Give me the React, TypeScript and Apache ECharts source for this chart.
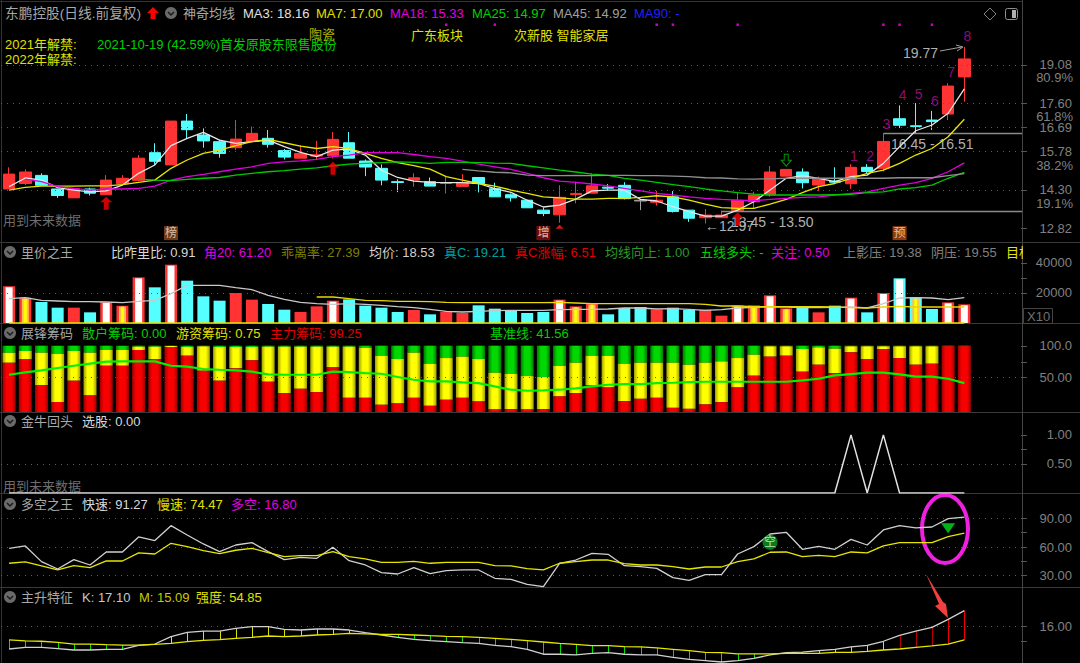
import React, { useEffect, useRef } from "react";
import * as echarts from "echarts";

const categories = Array.from({ length: 63 }, (_, i) => `D${i + 1}`);

// [open, close, low, high]
const candles = [
  [14.33,14.90,14.33,15.16],[14.54,14.98,14.48,15.08],[14.85,14.47,14.47,14.93],[14.33,14.08,13.99,14.33],[13.99,14.35,13.99,14.35],
  [14.33,14.17,14.08,14.38],[14.11,14.67,14.11,14.86],[14.53,14.74,14.53,14.86],[14.66,15.51,14.61,15.63],[15.72,15.39,15.25,16.08],
  [15.25,16.93,15.25,16.93],[16.93,16.60,16.27,17.20],[16.40,16.17,15.91,16.65],[16.14,15.69,15.53,16.20],[15.91,16.24,15.82,16.97],
  [16.15,16.46,16.15,16.72],[16.27,16.04,15.91,16.59],[15.80,15.55,15.46,15.86],[15.51,15.69,15.51,16.01],[15.59,15.64,15.44,16.17],
  [15.60,16.23,15.50,16.51],[16.10,15.51,15.51,16.51],[15.40,15.17,14.82,15.46],[15.12,14.67,14.47,15.27],[14.61,14.58,14.21,14.70],
  [14.67,14.76,14.42,14.93],[14.61,14.44,14.44,14.77],[14.54,14.57,14.16,14.80],[14.43,14.58,14.43,14.90],[14.77,14.54,14.20,14.77],
  [14.34,14.03,14.03,14.57],[14.11,13.99,13.85,14.16],[13.90,13.61,13.61,13.90],[13.52,13.39,13.29,13.62],[13.34,14.01,13.04,14.47],
  [14.12,14.16,13.78,14.61],[14.17,14.45,14.17,14.93],[14.40,14.36,14.26,14.52],[14.47,13.96,13.93,14.59],[13.90,13.87,13.52,13.90],
  [13.82,13.90,13.69,14.26],[14.03,13.47,13.43,14.25],[13.52,13.21,13.07,13.52],[13.23,13.33,13.01,13.56],[13.23,13.33,13.23,13.50],
  [13.50,13.90,13.50,14.22],[13.84,14.10,13.59,14.22],[14.10,14.98,14.03,15.21],[14.82,15.08,14.82,15.08],[14.98,14.57,14.35,15.12],
  [14.48,14.70,14.26,14.80],[14.63,14.59,14.54,15.16],[14.53,15.16,14.34,15.28],[15.16,15.00,14.93,15.28],[15.12,16.15,15.00,16.46],
  [17.02,16.77,16.66,17.53],[16.75,16.72,16.46,17.62],[16.97,16.91,16.59,17.32],[17.20,18.27,16.97,18.38],[18.62,19.31,17.67,19.77],
];
const ma3 = [14.42,14.75,14.67,14.38,14.29,14.22,14.26,14.48,14.93,15.25,15.99,16.27,16.50,16.20,16.08,16.14,16.20,15.95,15.73,15.57,15.82,15.86,15.63,15.05,14.77,
  14.63,14.58,14.57,14.57,14.54,14.34,14.20,13.90,13.64,13.71,13.94,14.26,14.29,14.29,13.93,13.87,13.65,13.46,13.29,13.29,
  13.52,13.84,14.29,14.74,14.84,14.74,14.61,14.80,14.86,15.31,15.95,16.56,16.78,17.23,18.16];
const ma7 = [14.29,14.39,14.44,14.44,14.44,14.45,14.45,14.50,14.58,14.67,15.12,15.44,15.69,15.82,15.99,16.14,16.23,16.10,15.97,15.88,15.95,15.88,15.69,15.50,15.34,
  15.22,15.09,14.80,14.67,14.54,14.44,14.29,14.16,14.03,13.99,13.94,13.94,13.97,13.97,14.01,14.07,14.03,13.90,13.75,13.62,
  13.59,13.59,13.75,13.93,14.19,14.42,14.54,14.74,14.93,15.05,15.31,15.63,15.88,16.33,17.00];
const ma18 = [null,14.71,14.61,14.42,14.35,14.29,14.33,14.33,14.35,14.44,14.67,14.80,14.89,14.99,15.09,15.18,15.31,15.37,15.41,15.46,15.57,15.63,15.72,15.72,15.72,
  15.65,15.57,15.50,15.40,15.28,15.18,15.08,14.93,14.76,14.63,14.58,14.52,14.45,14.35,14.26,14.16,14.10,14.03,13.97,13.93,
  13.90,13.88,13.93,13.97,14.01,14.03,14.10,14.16,14.22,14.35,14.48,14.57,14.74,14.99,15.33];
const ma25 = [null,null,null,null,null,null,null,null,14.71,14.67,14.65,14.70,14.74,14.77,14.86,14.93,14.99,15.03,15.09,15.14,15.22,15.28,15.31,15.34,15.37,
  15.35,15.31,15.35,15.35,15.34,15.32,15.31,15.22,15.14,15.05,14.98,14.90,14.85,14.74,14.67,14.58,14.50,14.42,14.33,14.26,
  14.19,14.13,14.10,14.10,14.10,14.10,14.11,14.12,14.19,14.22,14.33,14.38,14.48,14.74,14.97];
const ma45 = [null,null,null,null,null,null,null,null,null,null,null,null,null,null,null,null,null,null,null,null,null,null,null,null,null,null,null,null,
  15.08,15.02,14.97,14.95,14.86,14.84,14.84,14.85,14.84,14.85,14.85,14.84,14.84,14.82,14.80,14.76,14.75,14.72,14.71,14.72,14.74,14.74,14.74,14.74,14.74,14.74,14.74,14.76,14.76,14.76,14.84,14.92];

const magentaDots = [[27,20.62],[30,20.62],[40,20.62],[41,20.62],[45,20.62],[54,20.62],[55,20.62],[57,20.62]];
const redArrows = [[6,13.78],[20,15.12],[45,13.18]];
const redMarks = [[34,12.88]];
const greenArrows = [[48,15.43]];
const waveLabels = [
  { name: "1", value: [52,15.60] },{ name: "2", value: [53,15.60] },{ name: "3", value: [54,16.82] },{ name: "4", value: [55,17.93] },
  { name: "5", value: [56,17.98] },{ name: "6", value: [57,17.70] },{ name: "7", value: [58,18.80] },{ name: "8", value: [59,20.20] },
];
const priceTicks = [12.82,14.30,15.78,16.69,17.60,19.08];
const priceGrid = [14.30,15.78,16.69,17.60,19.08];
const levelLines = [[54,16.49],[44,13.50]];
const fibLabels = ["80.9%","61.8%","38.2%","19.1%"];

const volumes = [24440,16890,14000,10220,10220,7110,14000,11560,30440,23780,38890,28220,17780,14890,20000,15560,12670,8890,7330,11110,
  14890,15780,11560,10220,7330,8670,5780,7330,6670,11780,9560,8670,6670,7330,15560,11110,12890,5780,10000,10670,
  8890,10220,8670,8890,4890,11780,11780,18440,9780,10000,7110,11560,16890,7110,20000,29780,16890,9330,13780,12440];
const volKinds = ["rw","ry","c","c","r","c","rw","ry","rw","c","rw","c","c","c","r","r","c","c","r","r","rw","c","c","c","c","r","c","r","r","c",
  "c","c","c","c","rw","ry","ry","c","c","c","r","c","c","r","r","rw","ry","rw","ry","c","r","c","rw","c","rw","cw","cy","c","rw","rw"];
const volAvg = [16220,16890,15110,14670,14220,14220,14000,13560,14440,15110,19560,25110,25110,25110,23550,22220,18440,15780,13780,12890,
  12440,12890,12440,11780,10890,10220,9110,7780,7330,7780,8220,8440,8440,8440,8890,9110,9110,9330,10000,10000,
  9330,9560,9110,8440,8890,10000,10440,10670,10670,10220,10220,10440,10670,10000,12890,16670,16890,16670,15550,16890];
const volTarget = [null,null,null,null,null,null,null,null,null,null,null,null,null,null,null,null,null,null,null,
  17330,17330,16220,15110,14890,14440,14440,14220,13780,13560,13560,13560,13560,13560,13560,13780,13330,12890,12890,12890,12890,
  12890,12890,12890,12440,11330,11330,10890,10890,10890,10890,10890,10670,10220,10000,10670,11110,10670,10670,10670,10670];

const chipRed = [73.7,78.9,38.4,11.6,45.3,22.1,68.9,68.9,93.7,78.9,98.4,84.7,61.1,45.3,64.7,77.4,43.7,25.8,32.6,27.4,66.3,18.4,18.4,7.4,9.5,18.4,5.8,15.3,18.4,12.6,
  0,0.5,0,0.5,20.5,25.8,37.9,34.7,13.2,16.8,18.4,2.6,1,7.9,11.6,34.7,53.2,83.2,84.7,59.5,70.5,57.4,90,79.5,95.3,81,70.5,72.1,99.5,99.5];
const chipYellowTop = [89.5,92.1,89.5,87.9,92.1,89.5,93.7,93.7,98.9,98.9,100,98.4,99.5,98.4,98.4,98.4,98.9,98.9,98.9,98.9,98.9,98.9,97.4,84.7,79.5,89.5,72.1,81,83.2,79.5,
  57.9,56.3,52.6,51.1,68.9,73.7,84.7,84.7,72.1,73.7,73.7,73.7,70.5,73.7,75.8,81,86.3,99.5,99.5,95.3,97.9,95.8,99.5,99.5,99.5,99.5,99.5,99.5,100,100];
const chipBase = [54.7,58.4,61.6,65.3,68.9,72.1,75.3,75.8,75.8,75.8,68.9,67.4,63.7,62.6,61.6,59.5,55.3,54.7,54.7,54.7,59.5,58.9,57.4,56.3,51.1,46.8,44.2,44.2,42.6,41.6,
  36.3,31.1,29.5,30,31.1,33.2,36.3,38.9,40,40,41.6,42.1,43.2,43.7,43.7,43.7,43.7,43.7,43.7,45.8,48.4,53.7,55.8,57.9,57.9,55.3,51.6,51.6,48.4,41.56];

const pickStock = [0,0,0,0,0,0,0,0,0,0,0,0,0,0,0,0,0,0,0,0,0,0,0,0,0,0,0,0,0,0,0,0,0,0,0,0,0,0,0,0,0,0,0,0,0,0,0,0,0,0,0,0,1,0,1,0,0,0,0,0];

const fast = [58.6,61.1,44.7,37,46.8,41.2,54.8,54.8,70.5,66.7,82.3,72.6,63.2,55.2,62.1,64.6,55.2,46.8,49.2,48.2,59.7,45.7,41.2,33.2,31.8,38.4,32.2,35.3,36,36,
  27.3,26.2,21,18.6,43,46.4,53.4,52.4,40.5,39.5,37.7,28,25.2,31.1,31.1,52.7,60.4,73.6,75.4,57.6,60.7,57.6,68,62.1,77.8,82.3,79.9,80.9,89.7,91.27];
const slow = [43,44.4,40.2,36,40.5,38.4,45.4,45.4,53.8,52.7,63.9,60.4,56.2,53.1,56.6,58.6,54.1,49.9,51,51,55.2,49.9,47.5,44,44,45,43,44,44,44,
  40.5,40.2,37.4,36,43,44.7,46.4,46.4,42.6,41.2,41.2,39.5,37,39.1,39.1,44.7,47.5,54.5,54.8,49.9,51.3,49.9,54.8,53.8,61.1,64.6,64.6,64.6,70.8,74.47];
const kongBadge = [{ name: "空", value: [47,65] }];
const downTriangle = [[58,79.5]];

const riseK = [14.47,14.58,14.58,14.49,14.40,14.40,14.45,14.45,14.72,14.81,15.32,15.61,15.70,15.70,15.89,16.00,16.00,15.82,15.77,15.84,15.84,15.77,15.59,15.43,15.27,15.13,15.04,14.97,14.90,14.86,14.72,14.63,14.45,
  14.11,14.11,14.06,14.17,14.22,14.11,14.06,14.06,13.90,13.76,13.67,13.58,13.67,13.83,14.06,14.22,14.26,14.36,14.45,14.61,14.72,15.00,15.41,15.70,15.95,16.50,17.10];
const riseM = [15.09,15.02,15.00,14.93,14.81,14.81,14.77,14.74,14.74,14.79,14.86,14.97,15.06,15.11,15.20,15.27,15.36,15.32,15.36,15.43,15.47,15.54,15.50,15.47,15.47,15.43,15.38,15.34,15.32,15.27,15.20,15.13,15.04,
  14.95,14.86,14.79,14.70,14.70,14.63,14.61,14.54,14.45,14.36,14.24,14.22,14.13,14.13,14.13,14.17,14.17,14.17,14.24,14.24,14.31,14.40,14.47,14.58,14.68,14.81,15.09];

const badgeLabels = [{ name: "榜", value: [10,12.64] },{ name: "增", value: [33,12.64] },{ name: "预", value: [55,12.64] }];
const mainLegend = ["MA3: 18.16","MA7: 17.00","MA18: 15.33","MA25: 14.97","MA45: 14.92","MA90: -"];
const volLegend = ["比昨里比: 0.91","角20: 61.20","乖离率: 27.39","均价: 18.53","真C: 19.21","真C涨幅: 6.51","均线向上: 1.00","五线多头: -","关注: 0.50","上影压: 19.38","阴压: 19.55","目标"];
const chipLegend = ["散户筹码: 0.00","游资筹码: 0.75","主力筹码: 99.25","基准线: 41.56"];
const pickLegend = ["选股: 0.00"];
const bullLegend = ["快速: 91.27","慢速: 74.47","多空: 16.80"];
const riseLegend = ["K: 17.10","M: 15.09","强度: 54.85"];
const panelTitles = ["神奇均线","里价之王","展锋筹码","金牛回头","多空之王","主升特征"];

const FONT = '"Liberation Sans","Noto Sans CJK SC",sans-serif';
const RED = "#ff3333";
const CYAN = "#55ffff";
const GREY = "#808080";

const grids = [
  { left: 1, width: 1020, top: 20, height: 222 },
  { left: 1, width: 1020, top: 243, height: 80 },
  { left: 1, width: 1020, top: 326, height: 86 },
  { left: 1, width: 1020, top: 414, height: 79 },
  { left: 1, width: 1020, top: 494, height: 93 },
  { left: 1, width: 1020, top: 588, height: 75 },
];

function yAxis(gridIndex: number, min: number, max: number, labels: number[], ticks: number[], fmt: (v: number) => string) {
  return {
    type: "value", gridIndex, min, max, position: "right", scale: true,
    axisLine: { show: false }, splitLine: { show: false },
    axisTick: { show: true, length: 6, customValues: ticks, lineStyle: { color: "#555" } },
    axisLabel: { show: true, customValues: labels, color: GREY, fontSize: 13, fontFamily: FONT, align: "right", margin: 51, formatter: fmt, showMinLabel: true, showMaxLabel: true },
  };
}

function dotted(values: number[]) {
  return {
    silent: true, symbol: "none", animation: false, label: { show: false },
    lineStyle: { type: [1, 5], color: "#5a5a5a", width: 1 },
    data: values.map((v) => ({ yAxis: v })),
  };
}

function line(name: string, data: any[], color: string, g: number, width = 1.3) {
  return { name, type: "line", data, xAxisIndex: g, yAxisIndex: g, symbol: "none", showSymbol: false, lineStyle: { color, width }, itemStyle: { color }, z: 5, silent: true };
}

function cyl(dark: string, bright: string) {
  return new echarts.graphic.LinearGradient(0, 0, 1, 0, [
    { offset: 0, color: dark }, { offset: 0.3, color: bright }, { offset: 0.7, color: bright }, { offset: 1, color: dark },
  ]);
}

function txt(text: string, x: number, y: number, fill: string, fontSize = 13, align = "left") {
  return { type: "text", x, y, silent: true, style: { text, fill, fontSize, fontFamily: FONT, align, verticalAlign: "middle" } };
}

function chevron(cx: number, cy: number) {
  return [
    { type: "circle", shape: { cx, cy, r: 6 }, style: { fill: "#6a6a6a" }, silent: true },
    { type: "polyline", shape: { points: [[cx - 3, cy - 1], [cx, cy + 2], [cx + 3, cy - 1]] }, style: { stroke: "#1a1a1a", fill: "none", lineWidth: 1.5 }, silent: true },
  ];
}

function sep(y: number) {
  return { type: "line", shape: { x1: 0, y1: y, x2: 1080, y2: y }, style: { stroke: "#3a3a3a", lineWidth: 1 }, silent: true };
}

function row(labels: string[], xs: number[], y: number, colors: string[]) {
  return labels.map((t, i) => txt(t, xs[i], y, colors[i]));
}

const badgeBg = ["#8a4a1c", "#8a1010", "#b04a10"];

function buildOption() {
  const candleData = candles.map((c, i) => i === 39
    ? { value: c, itemStyle: { color: "#a0a0a0", color0: "#a0a0a0", borderColor: "#a0a0a0", borderColor0: "#a0a0a0" } }
    : c);

  const series: any[] = [
    {
      type: "candlestick", data: candleData, xAxisIndex: 0, yAxisIndex: 0, barWidth: 12, z: 3, silent: true,
      itemStyle: { color: RED, color0: CYAN, borderColor: RED, borderColor0: CYAN, borderWidth: 1 },
      markLine: dotted(priceGrid),
    },
    line("MA3", ma3, "#e6e6e6", 0), line("MA7", ma7, "#e6e600", 0), line("MA18", ma18, "#e000e0", 0), line("MA25", ma25, "#00c800", 0), line("MA45", ma45, "#909090", 0),
    { type: "scatter", data: magentaDots, xAxisIndex: 0, yAxisIndex: 0, symbol: "rect", symbolSize: 2.5, itemStyle: { color: "#ff00ff" }, silent: true },
    { type: "scatter", data: redArrows, xAxisIndex: 0, yAxisIndex: 0, symbol: "path://M5 0 L10 5 L7 5 L7 12 L3 12 L3 5 L0 5 Z", symbolSize: [12, 13], itemStyle: { color: "#ff0000" }, z: 6, silent: true },
    { type: "scatter", data: redMarks, xAxisIndex: 0, yAxisIndex: 0, symbol: "triangle", symbolSize: [8, 4], itemStyle: { color: "#ff2020" }, z: 6, silent: true },
    { type: "scatter", data: greenArrows, xAxisIndex: 0, yAxisIndex: 0, symbol: "path://M3 0 L7 0 L7 6 L10 6 L5 12 L0 6 L3 6 Z", symbolSize: [10, 12], itemStyle: { color: "transparent", borderColor: "#00c000", borderWidth: 1 }, z: 6, silent: true },
    {
      type: "scatter", data: waveLabels, xAxisIndex: 0, yAxisIndex: 0, symbolSize: 1, itemStyle: { color: "transparent" }, z: 7, silent: true,
      label: { show: true, position: "inside", offset: [3, 0], formatter: "{b}", color: "#b0109a", fontSize: 14, fontFamily: FONT },
    },
    {
      type: "scatter", data: badgeLabels.map((d, i) => ({ ...d, label: { backgroundColor: badgeBg[i] } })), xAxisIndex: 0, yAxisIndex: 0, symbolSize: 1, itemStyle: { color: "transparent" }, z: 7, silent: true,
      label: { show: true, position: "inside", fontSize: 12, fontFamily: FONT, color: "#f0e0d0", padding: [1, 1, 1, 1], formatter: "{b}" },
    },
    {
      type: "custom", data: levelLines, xAxisIndex: 0, yAxisIndex: 0, encode: { x: 0, y: 1 }, z: 4, silent: true,
      renderItem: (params: any, api: any) => {
        const p = api.coord([api.value(0), api.value(1)]);
        return { type: "line", shape: { x1: p[0], y1: Math.round(p[1]) + 0.5, x2: 1022, y2: Math.round(p[1]) + 0.5 }, style: { stroke: "#8a8a8a", lineWidth: 1.5 } };
      },
    },
    // Volume
    {
      type: "custom", data: volumes.map((v, i) => [i, v]), xAxisIndex: 1, yAxisIndex: 1, encode: { x: 0, y: 1 }, z: 3, silent: true,
      renderItem: (params: any, api: any) => {
        const kind = volKinds[params.dataIndex];
        const top = api.coord([api.value(0), api.value(1)]);
        const base = api.coord([api.value(0), 0]);
        const outer = kind[0] === "r" ? RED : CYAN;
        const children: any[] = [{ type: "rect", shape: { x: top[0] - 6, y: top[1], width: 12, height: base[1] - top[1] }, style: { fill: outer } }];
        if (kind[1] === "w") children.push({ type: "rect", shape: { x: top[0] - 3.5, y: top[1] + 1, width: 7, height: base[1] - top[1] - 1 }, style: { fill: "#ffffff" } });
        if (kind[1] === "y") {
          children.push({ type: "rect", shape: { x: top[0] - 3.5, y: top[1] + 1, width: 7, height: base[1] - top[1] - 1 }, style: { fill: "#ffc050" } });
          children.push({ type: "rect", shape: { x: top[0] - 1.5, y: top[1] + 1, width: 3, height: base[1] - top[1] - 1 }, style: { fill: "#ffff00" } });
        }
        return { type: "group", children };
      },
      markLine: {
        silent: true, symbol: "none", label: { show: false }, lineStyle: { type: "solid", color: "#e6e600", width: 1.5 },
        data: [[{ coord: [0, 300] }, { coord: [59, 300] }]],
      },
    },
    { type: "line", data: [], xAxisIndex: 1, yAxisIndex: 1, markLine: dotted([20000]) },
    line("均量", volAvg, "#c8c8c8", 1), line("目标量", volTarget, "#e6d800", 1),
    // Chips
    {
      type: "custom", data: chipRed.map((v, i) => [i, v, chipYellowTop[i]]), xAxisIndex: 2, yAxisIndex: 2, encode: { x: 0, y: 1 }, z: 3, silent: true,
      renderItem: (params: any, api: any) => {
        const i = api.value(0);
        const x = api.coord([i, 0])[0] - 6.5;
        const yBase = api.coord([i, -4])[1];
        const yRed = api.coord([i, api.value(1)])[1];
        const yYel = api.coord([i, api.value(2)])[1];
        const yTop = api.coord([i, 100.5])[1];
        return {
          type: "group",
          children: [
            { type: "rect", shape: { x, y: yTop, width: 13, height: yYel - yTop }, style: { fill: cyl("#007800", "#00d800") } },
            { type: "rect", shape: { x, y: yYel, width: 13, height: yRed - yYel }, style: { fill: cyl("#a0a000", "#ffff00") } },
            { type: "rect", shape: { x, y: yRed, width: 13, height: yBase - yRed }, style: { fill: cyl("#a00000", "#f80000") } },
          ],
        };
      },
    },
    { type: "line", data: [], xAxisIndex: 2, yAxisIndex: 2, markLine: dotted([50]) },
    line("基准线", chipBase, "#00f000", 2, 2.2),
    // Pick
    line("选股", pickStock, "#e0e0e0", 3, 1.5),
    { type: "line", data: [], xAxisIndex: 3, yAxisIndex: 3, markLine: dotted([0.5]) },
    // Bull/bear
    line("快速", fast, "#d0d0d0", 4), line("慢速", slow, "#e6e600", 4),
    { type: "line", data: [], xAxisIndex: 4, yAxisIndex: 4, markLine: dotted([30, 60, 90]) },
    {
      type: "scatter", data: kongBadge, xAxisIndex: 4, yAxisIndex: 4, symbol: "circle", symbolSize: 15, itemStyle: { color: "#0a9a20" }, z: 7, silent: true,
      label: { show: true, position: "inside", formatter: "{b}", color: "#e8ffe8", fontSize: 12, fontFamily: FONT },
    },
    { type: "scatter", data: downTriangle, xAxisIndex: 4, yAxisIndex: 4, symbol: "triangle", symbolRotate: 180, symbolSize: [14, 10], itemStyle: { color: "#00e020" }, z: 7, silent: true },
    // Rise
    {
      type: "custom", data: riseK.map((k, i) => [i, k, riseM[i]]), xAxisIndex: 5, yAxisIndex: 5, encode: { x: 0, y: 1 }, z: 3, silent: true,
      renderItem: (params: any, api: any) => {
        const i = api.value(0);
        const a = api.coord([i, api.value(1)]);
        const b = api.coord([i, api.value(2)]);
        const up = api.value(1) > api.value(2);
        const stroke = i >= 58 ? "#f00000" : i >= 55 ? "#b00000" : up ? "#e0e000" : "#00e000";
        const x = Math.round(a[0]) + 0.5;
        return { type: "line", shape: { x1: x, y1: a[1], x2: x, y2: b[1] }, style: { stroke, lineWidth: 1 } };
      },
    },
    line("K", riseK, "#d0d0d0", 5), line("M", riseM, "#e6e600", 5),
    { type: "line", data: [], xAxisIndex: 5, yAxisIndex: 5, markLine: dotted([16]) },
  ];

  const elements: any[] = [
    ...[242.5, 323.5, 412.5, 493.5, 587.5].map(sep),
    { type: "line", shape: { x1: 1022.5, y1: 0, x2: 1022.5, y2: 663 }, style: { stroke: "#444", lineWidth: 1 }, silent: true },
    { type: "line", shape: { x1: 1.5, y1: 0, x2: 1.5, y2: 663 }, style: { stroke: "#333", lineWidth: 1 }, silent: true },
    { type: "line", shape: { x1: 0, y1: 1.5, x2: 1022, y2: 1.5 }, style: { stroke: "#333", lineWidth: 1 }, silent: true },
    txt("东鹏控股(日线.前复权)", 5, 13, "#a8a8a8", 13.7),
    { type: "polygon", shape: { points: [[153, 7], [159, 13], [155.5, 13], [155.5, 19], [150.5, 19], [150.5, 13], [147, 13]] }, style: { fill: "#ff0000" }, silent: true },
    ...chevron(171, 13),
    txt(panelTitles[0], 183, 13, "#a8a8a8"),
    ...row(mainLegend, [243, 316, 390, 472, 553, 634], 13, ["#e0e0e0", "#e0e000", "#e000e0", "#00d000", "#a0a0a0", "#2020ff"]),
    txt("陶瓷", 309, 34, "#b0b000"), txt("广东板块", 411, 35, "#e0e000"), txt("次新股 智能家居", 514, 35, "#e0e000"),
    txt("2021年解禁:", 5, 44, "#e0e000"), txt("2022年解禁:", 5, 59, "#e0e000"),
    txt("2021-10-19 (42.59%)首发原股东限售股份", 97, 44, "#00d000"),
    txt("用到未来数据", 3, 220, "#6e6e6e"), txt("用到未来数据", 3, 486, "#6e6e6e"),
    // annotations
    txt("19.77", 903, 53, "#b0b0b0", 14),
    { type: "polyline", shape: { points: [[940, 51], [962, 47]] }, style: { stroke: "#a0a0a0", fill: "none", lineWidth: 1 }, silent: true },
    { type: "polyline", shape: { points: [[956, 45], [963, 47], [957, 51]] }, style: { stroke: "#a0a0a0", fill: "none", lineWidth: 1 }, silent: true },
    txt("16.45 - 16.51", 891, 144, "#b0b0b0", 14),
    txt("13.45 - 13.50", 731, 222, "#b0b0b0", 14),
    txt("←12.97", 705, 226, "#b0b0b0", 14),
    ...fibLabels.map((t, i) => txt(t, 1073, [77, 116, 165, 203][i], GREY, 13, "right")),
    // top-right icons
    { type: "polygon", shape: { points: [[990, 8], [996, 14], [990, 20], [984, 14]] }, style: { stroke: "#808080", fill: "none", lineWidth: 1 }, silent: true },
    { type: "rect", shape: { x: 1005.5, y: 8.5, width: 12, height: 11, r: 2 }, style: { stroke: "#909090", fill: "none", lineWidth: 1 }, silent: true },
    { type: "rect", shape: { x: 1012, y: 10, width: 4, height: 8 }, style: { fill: "#b0b0b0" }, silent: true },
    // volume panel
    ...chevron(10, 252), txt(panelTitles[1], 21, 252, "#a8a8a8"),
    ...row(volLegend, [111, 204, 281, 369, 444, 515, 605, 700, 771, 843, 931, 1006], 252,
      ["#d8d8d8", "#e000e0", "#808000", "#d0d0d0", "#00a0a0", "#e00000", "#2a9a2a", "#00d000", "#e000e0", "#808080", "#808080", "#e6e600"]),
    { type: "rect", shape: { x: 1023, y: 244, width: 57, height: 15 }, style: { fill: "#000" }, silent: true },
    { type: "rect", shape: { x: 1023.5, y: 308.5, width: 29, height: 15 }, style: { stroke: "#444", fill: "none", lineWidth: 1 }, silent: true },
    txt("X10", 1027, 316, "#707070"),
    // chips panel
    ...chevron(10, 333), txt(panelTitles[2], 21, 333, "#a8a8a8"),
    ...row(chipLegend, [82, 176, 270, 490], 333, ["#00d000", "#e0e000", "#e00000", "#00d000"]),
    // pick panel
    ...chevron(10, 421), txt(panelTitles[3], 21, 421, "#a8a8a8"),
    ...row(pickLegend, [82], 421, ["#d8d8d8"]),
    // bull panel
    ...chevron(10, 504), txt(panelTitles[4], 21, 504, "#a8a8a8"),
    ...row(bullLegend, [82, 157, 231], 504, ["#d8d8d8", "#e0e000", "#e000e0"]),
    // rise panel
    ...chevron(10, 597), txt(panelTitles[5], 21, 597, "#a8a8a8"),
    ...row(riseLegend, [82, 139, 196], 597, ["#c8c8c8", "#c8c800", "#e0e000"]),
    // hand-drawn marks
    { type: "ellipse", shape: { cx: 945, cy: 529, rx: 23, ry: 34 }, style: { stroke: "#f020e0", fill: "none", lineWidth: 4 }, silent: true },
    { type: "polygon", shape: { points: [[926, 574], [943, 602], [946, 604], [948, 618], [935, 606], [939, 604]] }, style: { fill: "#f04040" }, silent: true },
  ];

  return {
    animation: false,
    backgroundColor: "#000000",
    textStyle: { fontFamily: FONT },
    tooltip: { show: false },
    grid: grids,
    xAxis: grids.map((_, i) => ({ type: "category", gridIndex: i, data: categories, show: false, boundaryGap: true })),
    yAxis: [
      yAxis(0, 12.30, 20.80, priceTicks, priceTicks, (v) => v.toFixed(2)),
      yAxis(1, 0, 53333, [20000, 40000], [20000, 30000, 40000], (v) => String(Math.round(v))),
      yAxis(2, -4, 131.5, [50, 100], [50, 75, 100], (v) => (v === 100 ? "100.0" : v.toFixed(2))),
      yAxis(3, 0, 1.36, [0.5, 1], [0.5, 0.75, 1], (v) => v.toFixed(2)),
      yAxis(4, 18.2, 115.4, [30, 60, 90], [30, 45, 60, 75, 90], (v) => v.toFixed(2)),
      yAxis(5, 13.51, 18.65, [16], [15, 16], (v) => v.toFixed(2)),
    ],
    series,
    graphic: { elements },
  };
}

export default function App() {
  const ref = useRef<HTMLDivElement>(null);
  useEffect(() => {
    document.documentElement.style.margin = "0";
    document.documentElement.style.background = "#000";
    document.body.style.margin = "0";
    document.body.style.background = "#000";
    document.body.style.overflow = "hidden";
    if (!ref.current) return;
    const chart = echarts.init(ref.current, undefined, { renderer: "svg" });
    chart.setOption(buildOption() as any);
    return () => chart.dispose();
  }, []);
  return <div ref={ref} style={{ display: "block", margin: 0, width: 1080, height: 663, background: "#000" }} />;
}
